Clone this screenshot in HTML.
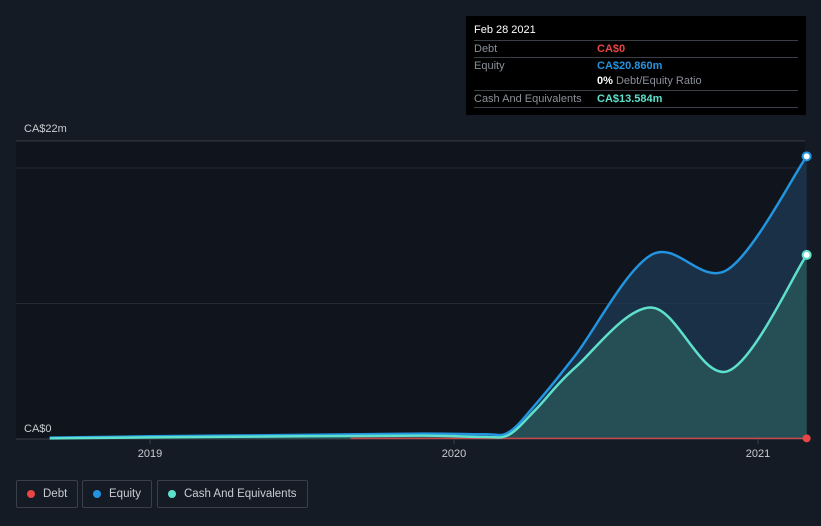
<!DOCTYPE html>
<html><head><meta charset="utf-8"><style>
body{margin:0;background:#151b25;font-family:"Liberation Sans",sans-serif;}
#wrap{position:relative;width:821px;height:526px;overflow:hidden;}
.tip{position:absolute;left:466px;top:16px;width:340px;height:99px;background:#000;font-size:11px;color:#fff;}
.row{position:absolute;left:8px;width:324px;border-top:1px solid #3a3f47;height:17px;line-height:17px;}
.lbl{position:absolute;left:0;color:#8b9099;}
.val{position:absolute;left:123px;font-weight:bold;}
.legend{position:absolute;top:480px;height:26px;border:1px solid #3a3f4a;border-radius:2px;color:#c9ccd1;font-size:11.5px;line-height:26px;padding:0 10px 0 26px;}
.legend i{position:absolute;left:10px;top:9px;width:8px;height:8px;border-radius:50%;}
</style></head><body>
<div id="wrap">
<svg id="svg" width="821" height="526" style="position:absolute;left:0;top:0"></svg>
<div class="tip">
<div style="position:absolute;left:8px;top:8px">Feb 28 2021</div>
<div class="row" style="top:24px"><span class="lbl">Debt</span><span class="val" style="color:#e84545">CA$0</span></div>
<div class="row" style="top:41px"><span class="lbl">Equity</span><span class="val" style="color:#2394df">CA$20.860m</span></div>
<div style="position:absolute;left:131px;top:59px;color:#8b9099"><b style="color:#fff">0%</b> Debt/Equity Ratio</div>
<div class="row" style="top:74px"><span class="lbl">Cash And Equivalents</span><span class="val" style="color:#5ee0cc">CA$13.584m</span></div>
<div class="row" style="top:91px;height:0"></div>
</div>
<div class="legend" style="left:16px"><i style="background:#e84545"></i>Debt</div>
<div class="legend" style="left:82px"><i style="background:#2394df"></i>Equity</div>
<div class="legend" style="left:157px"><i style="background:#5ee0cc"></i>Cash And Equivalents</div>
</div>
<script>
const eqX=[2018.67,2019.0,2019.5,2019.9,2020.1,2020.18,2020.27,2020.4,2020.65,2020.9,2021.16];
const eqY=[0.1,0.2,0.3,0.4,0.35,0.5,2.6,6.2,13.6,12.5,20.86];
const cashX=[2018.67,2019.0,2019.5,2019.9,2020.1,2020.18,2020.27,2020.4,2020.65,2020.9,2021.16];
const cashY=[0.05,0.12,0.2,0.25,0.15,0.3,2.2,5.3,9.7,5.0,13.584];
const debtX=[2019.66,2020.5,2021.16];
const debtY=[0.05,0.05,0.05];
const yTicks=[0,10,20];
const xTicks=[2019,2020,2021];
const X=v=>150+(v-2019)*304, Y=v=>439-v*13.55;
const svg=document.getElementById('svg');const NS='http://www.w3.org/2000/svg';
function mk(t,a,name){const e=document.createElementNS(NS,t);for(const k in a)e.setAttribute(k,a[k]);


svg.appendChild(e);return e;}
function curve(xs,ys){const p=xs.map((x,i)=>[X(x),Y(ys[i])]);let d='M'+p[0];
for(let i=0;i<p.length-1;i++){const a=p[i-1]||p[i],b=p[i],c=p[i+1],e=p[i+2]||c;
let c1=[b[0]+(c[0]-a[0])/6,b[1]+(c[1]-a[1])/6],c2=[c[0]-(e[0]-b[0])/6,c[1]-(e[1]-b[1])/6];
c1[1]=Math.min(c1[1],439);c2[1]=Math.min(c2[1],439);
d+='C'+c1+' '+c2+' '+c;}return d;}
mk('rect',{x:16,y:140,width:789,height:299,fill:'#10141c'},'plot-area');
mk('line',{x1:16,x2:805,y1:Y(22),y2:Y(22),stroke:'#3a3f47'},'top-grid');
yTicks.forEach(t=>{if(t>0)mk('line',{x1:16,x2:805,y1:Y(t),y2:Y(t),stroke:'#262b33'},'grid-'+t);});
mk('line',{x1:16,x2:805,y1:439,y2:439,stroke:'#3a3f47'},'x-axis');
xTicks.forEach(t=>{mk('line',{x1:X(t),x2:X(t),y1:439,y2:444,stroke:'#3a3f47'},'x-tick');
const tx=mk('text',{x:X(t),y:457,fill:'#c9ccd1','font-size':11,'text-anchor':'middle'},'x-tick-label');tx.textContent=t;});
const l1=mk('text',{x:24,y:132,fill:'#c9ccd1','font-size':11},'y-max-label');l1.textContent='CA$22m';
const l0=mk('text',{x:24,y:432,fill:'#c9ccd1','font-size':11},'y-zero-label');l0.textContent='CA$0';
const eq=curve(eqX,eqY),ca=curve(cashX,cashY);
mk('path',{d:eq+`L${X(eqX[eqX.length-1])},439L${X(eqX[0])},439Z`,fill:'#1d3a55','fill-opacity':0.75},'equity-area');
mk('path',{d:ca+`L${X(cashX[cashX.length-1])},439L${X(cashX[0])},439Z`,fill:'#2a5a5a','fill-opacity':0.75},'cash-area');
mk('path',{d:curve(debtX,debtY),fill:'none',stroke:'#c8474c','stroke-width':1.5},'debt-line');
mk('path',{d:eq,fill:'none',stroke:'#2394df','stroke-width':2.5},'equity-line');
mk('path',{d:ca,fill:'none',stroke:'#5ee0cc','stroke-width':2.5},'cash-line');
mk('circle',{cx:X(eqX[eqX.length-1]),cy:Y(eqY[eqY.length-1]),r:4,fill:'#fff',stroke:'#2394df','stroke-width':2},'equity-end-dot');
mk('circle',{cx:X(cashX[cashX.length-1]),cy:Y(cashY[cashY.length-1]),r:4,fill:'#fff',stroke:'#5ee0cc','stroke-width':2},'cash-end-dot');
mk('circle',{cx:X(debtX[debtX.length-1]),cy:Y(debtY[debtY.length-1]),r:4,fill:'#e84545'},'debt-end-dot');
</script></body></html>
